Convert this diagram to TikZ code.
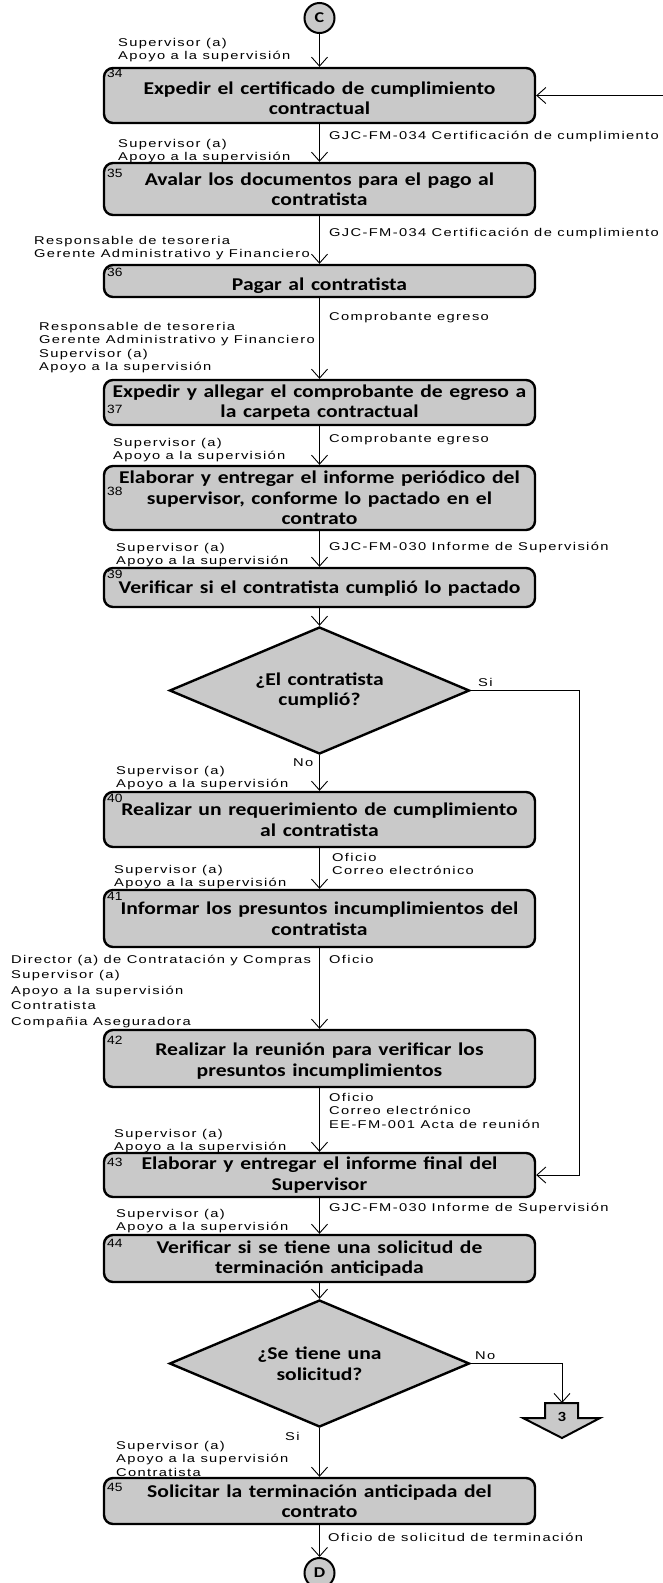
\documentclass[tikz,border=0pt]{standalone}
\usepackage{fontspec}
\setmainfont{Liberation Sans}
\newfontfamily\boxfont[FakeStretch=1.2,WordSpace=1.35]{Carlito}
\newfontfamily\lblfont[FakeStretch=1.3,LetterSpace=12]{Liberation Sans}
\newfontfamily\numfont[FakeStretch=1.15]{Liberation Sans}
\usetikzlibrary{arrows.meta,shapes.geometric}
\definecolor{boxgray}{rgb}{0.79,0.79,0.79}
\tikzset{
  proc/.style={draw, line width=2.4pt, rounded corners=9pt, fill=boxgray,
    minimum width=431pt, align=center, inner sep=0pt,
    font=\boxfont\bfseries\fontsize{18}{20.5}\selectfont},
  dec/.style={diamond, draw, line width=2.4pt, fill=boxgray, shape aspect=2.36,
    minimum width=300pt, minimum height=127pt, inner sep=0pt, align=center,
    font=\boxfont\bfseries\fontsize{18}{20.5}\selectfont},
  conn/.style={draw, line width=0.9pt, -{Straight Barb[length=9pt,width=16pt]}},
  lbl/.style={anchor=base west, inner sep=0pt, font=\lblfont\fontsize{11.3}{13.5}\selectfont},
  num/.style={anchor=base west, inner sep=0pt, font=\numfont\fontsize{12}{12}\selectfont},
  conC/.style={circle, draw, line width=2pt, fill=boxgray, minimum size=30pt, inner sep=0pt,
    font=\boxfont\bfseries\fontsize{15}{15}\selectfont}
}
\newcommand{\ml}[1]{\begin{tabular}[t]{@{}l@{}}#1\end{tabular}}
\begin{document}
\begin{tikzpicture}[x=1pt,y=-1pt]
\useasboundingbox (0,0) rectangle (663,1583);
\fill[white] (0,0) rectangle (663,1583);

% connector circles
\node[conC] (C) at (319.5,18) {C};
\node[conC] (D) at (319.5,1573) {D};

% process boxes
\node[proc, minimum height=55pt] (b34) at (319.5,95.5) {\raisebox{0pt}[\dimexpr\height+5pt][\depth]{Expedir el certificado de cumplimiento}\\contractual};
\node[proc, minimum height=52pt] (b35) at (319.5,189) {Avalar los documentos para el pago al\\contratista};
\node[proc, minimum height=32pt] (b36) at (319.5,281) {\raisebox{0pt}[\dimexpr\height+9pt][\depth]{Pagar al contratista}};
\node[proc, minimum height=45pt] (b37) at (319.5,402.5) {Expedir y allegar el comprobante de egreso a\\la carpeta contractual};
\node[proc, minimum height=64pt] (b38) at (319.5,498) {Elaborar y entregar el informe peri\'odico del\\supervisor, conforme lo pactado en el\\contrato};
\node[proc, minimum height=39pt] (b39) at (319.5,587.5) {\raisebox{0pt}[\dimexpr\height+3pt][\depth]{Verificar si el contratista cumpli\'o lo pactado}};
\node[dec] (d1) at (319.5,690.5) {¿El contratista\\cumpli\'o?};
\node[proc, minimum height=55pt] (b40) at (319.5,819.5) {Realizar un requerimiento de cumplimiento\\al contratista};
\node[proc, minimum height=57pt] (b41) at (319.5,918.5) {Informar los presuntos incumplimientos del\\contratista};
\node[proc, minimum height=57pt] (b42) at (319.5,1058.5) {\raisebox{0pt}[\dimexpr\height+5pt][\depth]{Realizar la reuni\'on para verificar los}\\presuntos incumplimientos};
\node[proc, minimum height=44pt] (b43) at (319.5,1175) {Elaborar y entregar el informe final del\\Supervisor};
\node[proc, minimum height=47pt] (b44) at (319.5,1258.5) {Verificar si se tiene una solicitud de\\terminaci\'on anticipada};
\node[dec] (d2) at (319.5,1363.5) {¿Se tiene una\\solicitud?};
\node[proc, minimum height=46pt] (b45) at (319.5,1501) {Solicitar la terminaci\'on anticipada del\\contrato};

% box numbers
\node[num] at (107,77) {34};
\node[num] at (107,177) {35};
\node[num] at (107,276) {36};
\node[num] at (107,413) {37};
\node[num] at (107,495) {38};
\node[num] at (107,578) {39};
\node[num] at (107,802) {40};
\node[num] at (107,900) {41};
\node[num] at (107,1044) {42};
\node[num] at (107,1166) {43};
\node[num] at (107,1247) {44};
\node[num] at (107,1491) {45};

% off-page connector 3
\draw[line width=2pt, fill=boxgray, line join=miter]
  (545,1403) -- (578,1403) -- (578,1418) -- (600,1418) -- (562,1438)
  -- (523,1418) -- (545,1418) -- cycle;
\node[font=\boxfont\bfseries\fontsize{14}{14}\selectfont, inner sep=0pt] (off3) at (562,1417) {3};
\coordinate (off3top) at (562,1403);

% coordinates for bends
\coordinate (inR) at (663,95.5);
\coordinate (siX) at (579,690.5);
\coordinate (noX) at (562,1363.5);

% connectors
\draw[conn] (C) -- (b34);
\draw[conn] (inR) -- (b34);
\draw[conn] (b34) -- (b35);
\draw[conn] (b35) -- (b36);
\draw[conn] (b36) -- (b37);
\draw[conn] (b37) -- (b38);
\draw[conn] (b38) -- (b39);
\draw[conn] (b39) -- (d1);
\draw[conn] (d1) -- (b40);
\draw[conn] (d1.east) -- (siX) |- (b43.east);
\draw[conn] (b40) -- (b41);
\draw[conn] (b41) -- (b42);
\draw[conn] (b42) -- (b43);
\draw[conn] (b43) -- (b44);
\draw[conn] (b44) -- (d2);
\draw[conn] (d2.east) -- (noX) -- (off3top);
\draw[conn] (d2) -- (b45);
\draw[conn] (b45) -- (D);

% labels
\node[lbl] at (118,46) {\ml{Supervisor (a)\\Apoyo a la supervisi\'on}};
\node[lbl] at (329,139) {GJC-FM-034 Certificaci\'on de cumplimiento};
\node[lbl] at (118,147) {\ml{Supervisor (a)\\Apoyo a la supervisi\'on}};
\node[lbl] at (329,236) {GJC-FM-034 Certificaci\'on de cumplimiento};
\node[lbl] at (34,244) {\ml{Responsable de tesoreria\\Gerente Administrativo y Financiero}};
\node[lbl] at (329,320) {Comprobante egreso};
\node[lbl] at (39,330) {\ml{Responsable de tesoreria\\Gerente Administrativo y Financiero\\Supervisor (a)\\Apoyo a la supervisi\'on}};
\node[lbl] at (329,442) {Comprobante egreso};
\node[lbl] at (113,446) {\ml{Supervisor (a)\\Apoyo a la supervisi\'on}};
\node[lbl] at (329,550) {GJC-FM-030 Informe de Supervisi\'on};
\node[lbl] at (116,551) {\ml{Supervisor (a)\\Apoyo a la supervisi\'on}};
\node[lbl] at (478,686) {Si};
\node[lbl] at (293,766) {No};
\node[lbl] at (116,774) {\ml{Supervisor (a)\\Apoyo a la supervisi\'on}};
\node[lbl] at (332,861) {\ml{Oficio\\Correo electr\'onico}};
\node[lbl] at (114,873) {\ml{Supervisor (a)\\Apoyo a la supervisi\'on}};
\node[lbl] at (329,963) {Oficio};
\node[lbl, font=\lblfont\fontsize{11.3}{15.5}\selectfont] at (11,963) {\ml{Director (a) de Contrataci\'on y Compras\\Supervisor (a)\\Apoyo a la supervisi\'on\\Contratista\\Compa\~nia Aseguradora}};
\node[lbl] at (329,1101) {\ml{Oficio\\Correo electr\'onico\\EE-FM-001 Acta de reuni\'on}};
\node[lbl] at (114,1137) {\ml{Supervisor (a)\\Apoyo a la supervisi\'on}};
\node[lbl] at (329,1211) {GJC-FM-030 Informe de Supervisi\'on};
\node[lbl] at (116,1217) {\ml{Supervisor (a)\\Apoyo a la supervisi\'on}};
\node[lbl] at (475,1359) {No};
\node[lbl] at (285,1440) {Si};
\node[lbl] at (116,1449) {\ml{Supervisor (a)\\Apoyo a la supervisi\'on\\Contratista}};
\node[lbl] at (328,1541) {Oficio de solicitud de terminaci\'on};
\end{tikzpicture}
\end{document}
